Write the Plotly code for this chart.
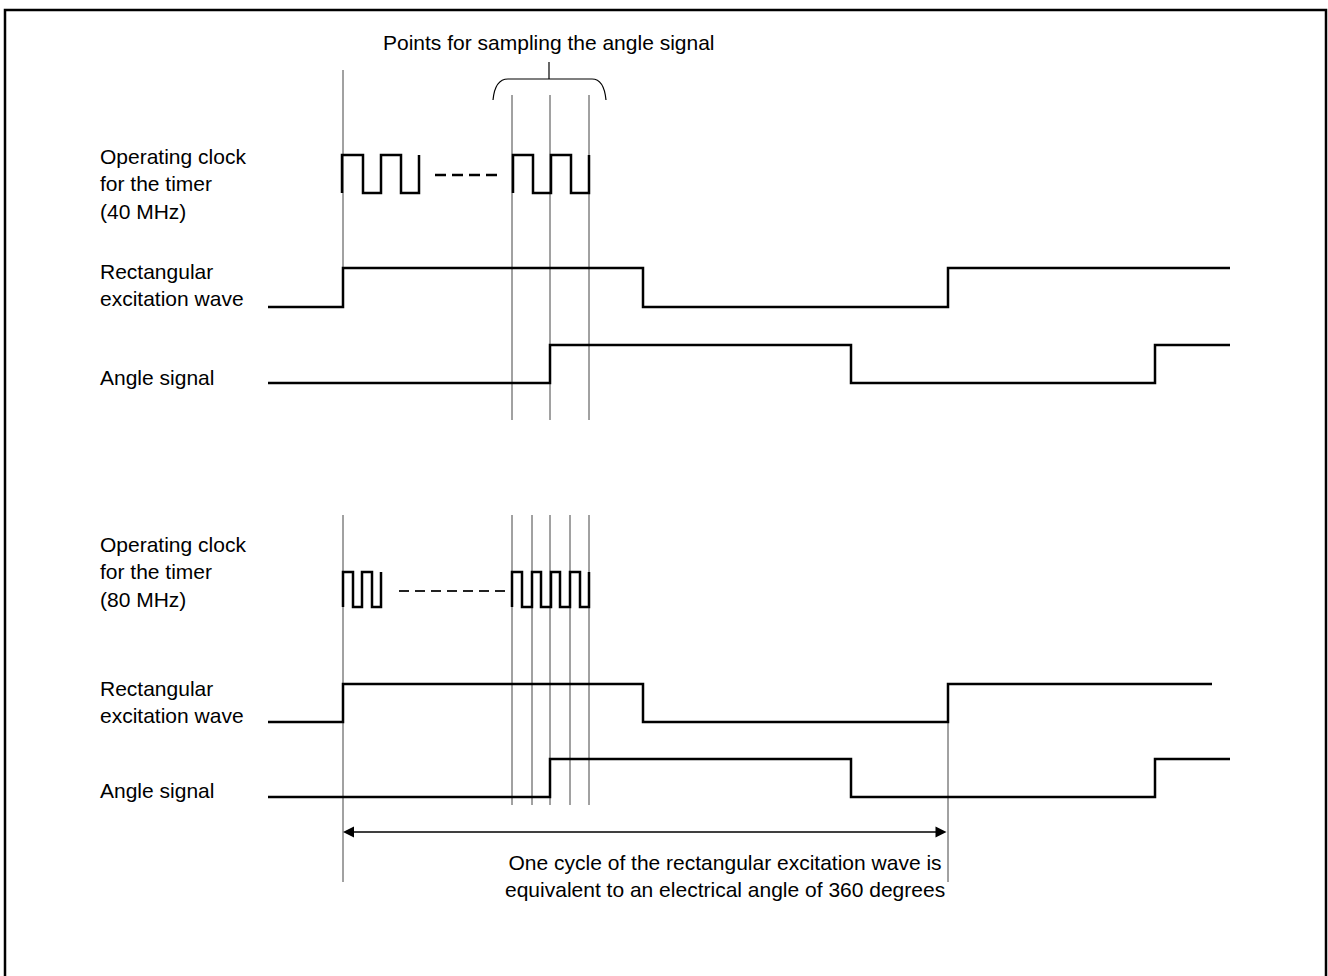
import plotly.graph_objects as go

# timing diagram values (x positions in px along the time axis)
wave_start = 268
wave_end = 1230
wave_end_rect2 = 1212

rect_edges = [343, 643, 948]          # rise, fall, rise
angle_edges = [550, 851, 1155]        # rise, fall, rise

clk40_groups = [[342, 363, 381, 401, 419], [513, 533, 551, 571, 589]]
clk80_groups = [[343, 353, 362, 372, 381], [512, 522, 532, 541, 551, 560, 570, 580, 589]]

sample_top = [512, 550, 589]
sample_bottom = [512, 532, 550, 570, 589]

cycle_start = 343
cycle_end = 948

labels = {
    "clk40": "Operating clock<br>for the timer<br>(40 MHz)",
    "rect": "Rectangular<br>excitation wave",
    "angle": "Angle signal",
    "clk80": "Operating clock<br>for the timer<br>(80 MHz)",
    "title": "Points for sampling the angle signal",
    "cycle": "One cycle of the rectangular excitation wave is<br>equivalent to an electrical angle of 360 degrees",
}


def step_wave(x0, x1, edges, low, high):
    xs, ys = [x0], [low]
    level = low
    for e in edges:
        xs += [e, e]
        ys += [level, high if level == low else low]
        level = ys[-1]
    xs.append(x1)
    ys.append(level)
    return xs, ys


def clock(edges, low, high):
    # first edge is a rise drawn without a preceding low segment
    xs, ys = [edges[0]], [low]
    level = low
    for i, e in enumerate(edges):
        if i > 0:
            xs.append(e)
            ys.append(level)
        level = high if level == low else low
        xs.append(e)
        ys.append(level)
    return xs, ys


fig = go.Figure()
thick = dict(color="black", width=2.5)
thin = dict(color="#444444", width=1)


def add_line(xs, ys, line):
    fig.add_trace(go.Scatter(x=xs, y=ys, mode="lines", line=line,
                             hoverinfo="skip", showlegend=False))


# thin reference lines, top
add_line([343, 343], [70, 307], thin)
for x in sample_top:
    add_line([x, x], [95, 420], thin)
# thin reference lines, bottom
add_line([343, 343], [515, 882], thin)
for x in sample_bottom:
    add_line([x, x], [515, 805], thin)
add_line([948, 948], [684, 882], thin)

# top panel
for g in clk40_groups:
    xs, ys = clock(g, 193, 155)
    add_line(xs, ys, thick)
add_line([435, 497], [175, 175], dict(color="black", width=2.5, dash="11px,6px"))
add_line(*step_wave(wave_start, wave_end, rect_edges, 307, 268), thick)
add_line(*step_wave(wave_start, wave_end, angle_edges, 383, 345), thick)

# bottom panel
for g in clk80_groups:
    xs, ys = clock(g, 607, 572)
    add_line(xs, ys, thick)
add_line([399, 505], [591, 591], dict(color="#222222", width=2, dash="10px,6px"))
add_line(*step_wave(wave_start, wave_end_rect2, rect_edges, 722, 684), thick)
add_line(*step_wave(wave_start, wave_end, angle_edges, 797, 759), thick)

# cycle arrow
add_line([cycle_start + 8, cycle_end - 8], [832, 832], dict(color="black", width=1))
fig.add_annotation(x=cycle_start, y=832, ax=cycle_end, ay=832, xref="x", yref="y",
                   axref="x", ayref="y", text="", showarrow=True, arrowhead=2,
                   arrowside="end+start", arrowsize=2.2, arrowwidth=1, arrowcolor="black",
                   standoff=0, startstandoff=0)

# brace above the sampling points
fig.add_shape(type="path", xref="x", yref="y",
              path="M 493,100 Q 495,79 508,79 L 592,79 Q 604,79 606,100",
              line=dict(color="black", width=1.2))
add_line([549, 549], [62, 79], dict(color="black", width=1.2))

# frame
fig.add_shape(type="rect", xref="x", yref="y", x0=5, y0=10, x1=1326, y1=990,
              line=dict(color="black", width=2.5))

font = dict(family="Liberation Sans, Arial", size=21, color="black")
for key, y in [("clk40", 184), ("rect", 285), ("angle", 377),
               ("clk80", 572), ("rect", 702), ("angle", 790)]:
    fig.add_annotation(x=98, y=y, text=labels[key], showarrow=False, xanchor="left",
                       yanchor="middle", align="left", font=font)
fig.add_annotation(x=549, y=42, text=labels["title"], showarrow=False, font=font)
fig.add_annotation(x=725, y=876, text=labels["cycle"], showarrow=False, font=font)

fig.update_layout(
    width=1328, height=976,
    margin=dict(l=0, r=0, t=0, b=0),
    plot_bgcolor="white", paper_bgcolor="white",
    xaxis=dict(range=[0, 1328], visible=False, fixedrange=True),
    yaxis=dict(range=[976, 0], visible=False, fixedrange=True),
)

fig.write_html("out.html", config={"displayModeBar": False},
               post_script="document.body.style.margin='0';")
